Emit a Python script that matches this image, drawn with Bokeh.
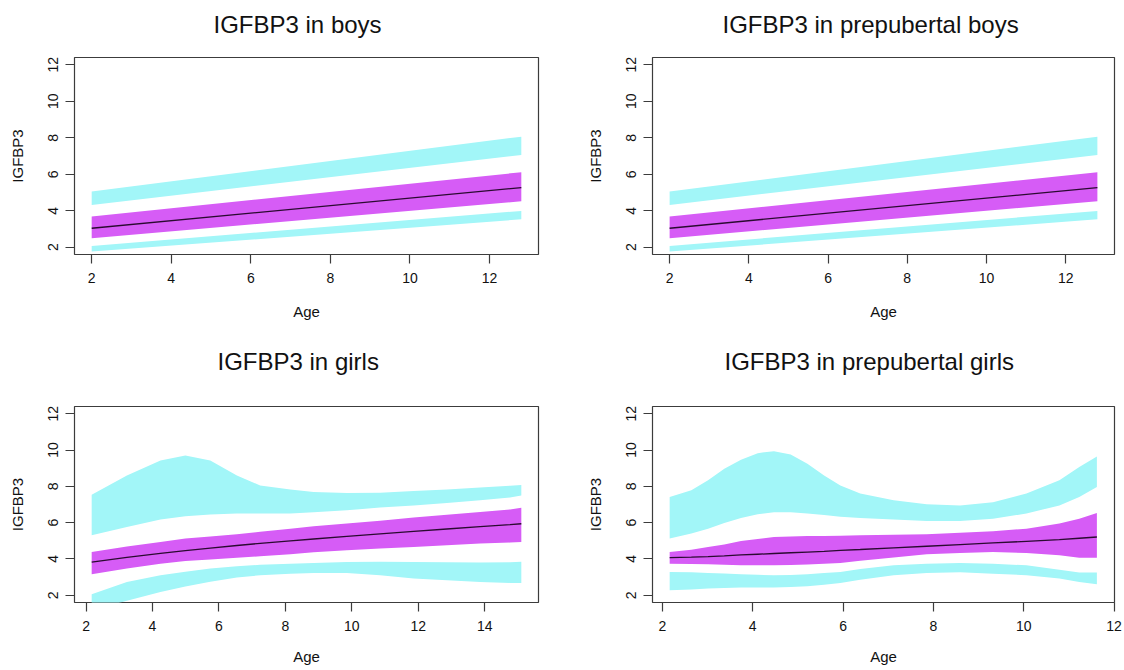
from bokeh.plotting import figure
from bokeh.layouts import column, row
from bokeh.models import FixedTicker, Range1d, Title
from bokeh.embed import file_html
from bokeh.resources import INLINE

# ---------------- data ----------------
titles = ["IGFBP3 in boys", "IGFBP3 in prepubertal boys",
          "IGFBP3 in girls", "IGFBP3 in prepubertal girls"]
x_label = "Age"
y_label = "IGFBP3"
y_ticks = [2, 4, 6, 8, 10, 12]
x_ticks_boys = [2, 4, 6, 8, 10, 12]
x_ticks_girls = [2, 4, 6, 8, 10, 12, 14]
x_ticks_pregirls = [2, 4, 6, 8, 10, 12]

# boys (identical in both top panels)
boys_age = [2.0, 12.8]
boys_up_hi = [5.05, 8.06]
boys_up_lo = [4.32, 7.06]
boys_mid_hi = [3.68, 6.11]
boys_mid_lo = [2.49, 4.52]
boys_med = [3.04, 5.27]
boys_low_hi = [2.07, 3.99]
boys_low_lo = [1.76, 3.53]

# girls
girls_age = [2.17, 3.23, 4.24, 4.99, 5.74, 6.54, 7.24, 8.15, 8.85, 9.85,
             10.85, 11.86, 12.86, 13.86, 14.76, 15.1]
girls_up_hi = [7.54, 8.60, 9.43, 9.70, 9.43, 8.60, 8.05, 7.82, 7.69, 7.63,
               7.65, 7.74, 7.82, 7.93, 8.04, 8.08]
girls_up_lo = [5.30, 5.76, 6.17, 6.35, 6.45, 6.50, 6.50, 6.50, 6.57, 6.68,
               6.83, 6.95, 7.08, 7.23, 7.38, 7.49]
girls_mid_hi = [4.38, 4.68, 4.93, 5.12, 5.24, 5.36, 5.50, 5.67, 5.80, 5.95,
                6.11, 6.28, 6.43, 6.58, 6.73, 6.82]
girls_mid_lo = [3.16, 3.48, 3.74, 3.88, 3.97, 4.06, 4.15, 4.26, 4.37, 4.48,
                4.57, 4.66, 4.76, 4.85, 4.90, 4.93]
girls_med = [3.83, 4.09, 4.31, 4.46, 4.60, 4.74, 4.86, 5.00, 5.10, 5.24,
             5.38, 5.52, 5.65, 5.78, 5.89, 5.94]
girls_low_hi = [2.06, 2.73, 3.10, 3.30, 3.47, 3.60, 3.68, 3.74, 3.78, 3.83,
                3.84, 3.83, 3.82, 3.80, 3.82, 3.84]
girls_low_lo = [1.15, 1.70, 2.18, 2.48, 2.75, 2.98, 3.10, 3.19, 3.23, 3.23,
                3.10, 2.92, 2.83, 2.73, 2.68, 2.68]

# prepubertal girls
pg_age = [2.16, 2.64, 3.01, 3.37, 3.74, 4.11, 4.47, 4.84, 5.21, 5.58, 5.94,
          6.38, 7.12, 7.85, 8.59, 9.32, 10.06, 10.79, 11.23, 11.62]
pg_up_hi = [7.41, 7.78, 8.33, 8.97, 9.47, 9.83, 9.94, 9.76, 9.25, 8.60, 8.05,
            7.60, 7.23, 7.01, 6.95, 7.13, 7.60, 8.33, 9.06, 9.65]
pg_up_lo = [5.12, 5.40, 5.67, 5.98, 6.26, 6.46, 6.57, 6.57, 6.50, 6.42, 6.33,
            6.25, 6.17, 6.09, 6.09, 6.22, 6.50, 6.95, 7.41, 7.96]
pg_mid_hi = [4.38, 4.50, 4.66, 4.80, 4.99, 5.10, 5.21, 5.24, 5.26, 5.27, 5.28,
             5.30, 5.33, 5.36, 5.44, 5.52, 5.67, 5.95, 6.22, 6.53]
pg_mid_lo = [3.74, 3.72, 3.71, 3.68, 3.65, 3.65, 3.65, 3.67, 3.69, 3.73, 3.78,
             3.90, 4.08, 4.26, 4.33, 4.38, 4.33, 4.20, 4.07, 4.07]
pg_med = [4.07, 4.10, 4.13, 4.17, 4.22, 4.26, 4.30, 4.34, 4.38, 4.42, 4.47,
          4.52, 4.61, 4.70, 4.79, 4.88, 4.97, 5.06, 5.14, 5.21]
pg_low_hi = [3.28, 3.26, 3.23, 3.20, 3.16, 3.13, 3.10, 3.12, 3.16, 3.22, 3.28,
             3.45, 3.65, 3.74, 3.78, 3.74, 3.65, 3.41, 3.25, 3.25]
pg_low_lo = [2.28, 2.32, 2.37, 2.40, 2.42, 2.42, 2.42, 2.46, 2.50, 2.58, 2.68,
             2.85, 3.10, 3.23, 3.27, 3.19, 3.10, 2.92, 2.73, 2.61]

# ---------------- styling ----------------
CYAN = "#A2F6F8"
PURPLE = "#D65CF6"
LINE = "#2a0a30"
FRAME = "#3c3c3c"
FONT = "Liberation Sans"
Y_RANGE = (1.6, 12.4)


def panel(title, age, up_hi, up_lo, mid_hi, mid_lo, med, low_hi, low_lo,
          xr, xticks, width, height, mb_left, mb_right, mb_top, mb_bottom,
          title_offset, title_standoff, spacer_size, tick_standoff, label_standoff):
    p = figure(width=width, height=height, output_backend="svg",
               toolbar_location=None,
               x_range=Range1d(*xr), y_range=Range1d(*Y_RANGE),
               min_border_left=mb_left, min_border_right=mb_right,
               min_border_top=mb_top, min_border_bottom=mb_bottom)
    p.varea(x=age, y1=up_lo, y2=up_hi, fill_color=CYAN)
    p.varea(x=age, y1=low_lo, y2=low_hi, fill_color=CYAN)
    p.varea(x=age, y1=mid_lo, y2=mid_hi, fill_color=PURPLE)
    p.line(age, med, line_color=LINE, line_width=1.3)

    # spacer between title and frame, then the title itself
    p.add_layout(Title(text=" ", text_font_size=f"{spacer_size}px",
                       standoff=0), "above")
    p.add_layout(Title(text=title, align="left", offset=title_offset,
                       standoff=title_standoff, text_font=FONT,
                       text_font_size="24px", text_font_style="normal",
                       text_color="#111111"), "above")

    p.xgrid.visible = False
    p.ygrid.visible = False
    p.outline_line_color = FRAME
    p.outline_line_width = 1.2
    p.background_fill_color = "white"

    p.xaxis.ticker = FixedTicker(ticks=xticks)
    p.yaxis.ticker = FixedTicker(ticks=y_ticks)
    p.xaxis.axis_label = x_label
    p.yaxis.axis_label = y_label
    p.yaxis.major_label_orientation = "vertical"
    for ax in (p.xaxis[0], p.yaxis[0]):
        ax.axis_line_color = None
        ax.major_tick_out = 9
        ax.major_tick_in = 0
        ax.minor_tick_out = 0
        ax.minor_tick_in = 0
        ax.major_tick_line_color = FRAME
        ax.major_tick_line_width = 1.2
        ax.major_label_text_font = FONT
        ax.major_label_text_font_size = "14px"
        ax.major_label_text_color = "#111111"
        ax.axis_label_text_font = FONT
        ax.axis_label_text_font_size = "15px"
        ax.axis_label_text_font_style = "normal"
        ax.axis_label_text_color = "#111111"
    p.xaxis.major_label_standoff = tick_standoff
    p.xaxis.axis_label_standoff = label_standoff
    p.yaxis.major_label_standoff = 7
    p.yaxis.axis_label_standoff = 20
    return p


xr_boys = (1.568, 13.232)
xr_girls = (1.653, 15.617)
xr_pg = (1.78, 12.01)

f1 = panel(titles[0], boys_age, boys_up_hi, boys_up_lo, boys_mid_hi, boys_mid_lo,
           boys_med, boys_low_hi, boys_low_lo, xr_boys, x_ticks_boys,
           576, 335, 74, 38, 57, 81, 139, 12, 11, 9, 17)
f2 = panel(titles[1], boys_age, boys_up_hi, boys_up_lo, boys_mid_hi, boys_mid_lo,
           boys_med, boys_low_hi, boys_low_lo, xr_boys, x_ticks_boys,
           548, 335, 76, 10, 57, 81, 70, 12, 11, 9, 17)
f3 = panel(titles[2], girls_age, girls_up_hi, girls_up_lo, girls_mid_hi, girls_mid_lo,
           girls_med, girls_low_hi, girls_low_lo, xr_girls, x_ticks_girls,
           576, 335, 74, 38, 71, 68, 143, 16, 20, 9, 14)
f4 = panel(titles[3], pg_age, pg_up_hi, pg_up_lo, pg_mid_hi, pg_mid_lo,
           pg_med, pg_low_hi, pg_low_lo, xr_pg, x_ticks_pregirls,
           548, 335, 76, 10, 71, 68, 72, 16, 20, 9, 14)

layout = column(row(f1, f2), row(f3, f4))
open("out.html", "w").write(file_html(layout, INLINE))
